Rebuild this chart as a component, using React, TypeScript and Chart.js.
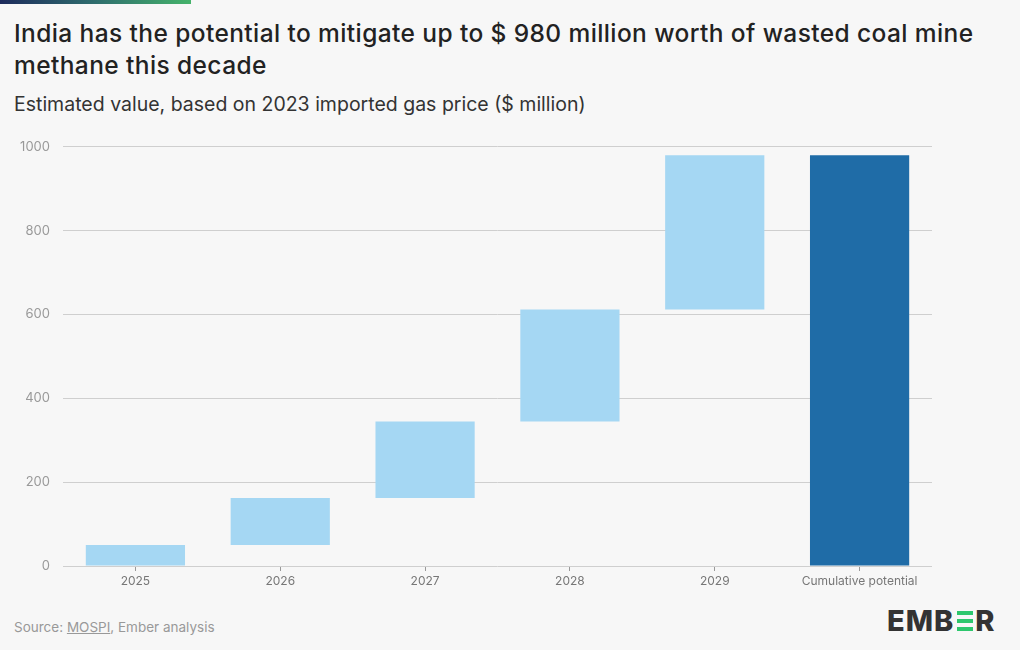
import React, { useEffect, useRef } from "react";
import { Chart, registerables } from "chart.js";

Chart.register(...registerables);

const categories = ["2025", "2026", "2027", "2028", "2029", "Cumulative potential"];
const barStarts = [0, 50, 162, 345, 612, 0];
const barEnds = [50, 162, 345, 612, 980, 980];
const yTicks = [0, 200, 400, 600, 800, 1000];
const barColors = ["#a5d7f3", "#a5d7f3", "#a5d7f3", "#a5d7f3", "#a5d7f3", "#1f6ca7"];

const FONT = "Inter, 'Noto Sans', sans-serif";

export default function App() {
  const ref = useRef<HTMLCanvasElement | null>(null);

  useEffect(() => {
    if (!ref.current) return;
    const chart = new Chart(ref.current, {
      type: "bar",
      data: {
        labels: categories,
        datasets: [
          {
            data: categories.map((_, i) => [barStarts[i], barEnds[i]]) as any,
            backgroundColor: barColors,
            borderWidth: 0,
            categoryPercentage: 1,
            barPercentage: 0.685,
          },
        ],
      },
      options: {
        animation: false,
        responsive: false,
        maintainAspectRatio: false,
        layout: { padding: { top: 8, right: 8, left: 0, bottom: 0 } },
        plugins: { legend: { display: false }, tooltip: { enabled: false } },
        scales: {
          x: {
            grid: { display: true, offset: false, drawOnChartArea: false, drawTicks: true, tickLength: 5, color: "#999" },
            border: { display: false },
            ticks: { color: "#777", font: { family: FONT, size: 12 }, padding: 3, maxRotation: 0 },
            afterFit: (s: any) => { s.height = 34; },
          },
          y: {
            min: 0,
            max: 1000,
            afterBuildTicks: (s: any) => { s.ticks = yTicks.map((v) => ({ value: v })); },
            grid: { color: "#cfcfcf", drawTicks: false },
            border: { display: false },
            ticks: { color: "#999", font: { family: FONT, size: 13 }, padding: 13, callback: (v: any) => String(v) },
            afterFit: (s: any) => { s.width = 63; },
          },
        },
      },
    });
    return () => chart.destroy();
  }, []);

  return (
    <div style={{ position: "fixed", left: 0, top: 0, width: 1020, height: 650, background: "#f7f7f7", fontFamily: FONT, overflow: "hidden" }}>
      <div style={{ position: "absolute", left: 0, top: 0, width: 191, height: 4, background: "linear-gradient(90deg, #1d2b5c 0%, #2f6e6e 50%, #45b36b 100%)" }} />
      <div style={{ position: "absolute", left: 14, top: 17, width: 990, fontSize: 24.5, fontWeight: 500, color: "#222", lineHeight: "32px", letterSpacing: 0.4 }}>
        India has the potential to mitigate up to $ 980 million worth of wasted coal mine<br />methane this decade
      </div>
      <div style={{ position: "absolute", left: 14, top: 91, fontSize: 19.5, color: "#333", lineHeight: "26px" }}>
        Estimated value, based on 2023 imported gas price ($ million)
      </div>
      <canvas ref={ref} width={940} height={474} style={{ position: "absolute", left: 0, top: 126, width: 940, height: 474 }} />
      <div style={{ position: "absolute", left: 14, top: 619, fontSize: 13.5, color: "#999", lineHeight: "16px" }}>
        Source: <span style={{ textDecoration: "underline" }}>MOSPI</span>, Ember analysis
      </div>
      <div style={{ position: "absolute", left: 887, top: 607, height: 28, display: "flex", alignItems: "center", fontSize: 29, fontWeight: 800, color: "#333", letterSpacing: 1, lineHeight: "28px" }}>
        <span>EMB</span>
        <span style={{ display: "inline-flex", flexDirection: "column", justifyContent: "space-between", height: 20, width: 16, margin: "0 2px 0 3px" }}>
          <span style={{ display: "block", height: 4, background: "#2dc76d" }} />
          <span style={{ display: "block", height: 4, background: "#2dc76d" }} />
          <span style={{ display: "block", height: 4, background: "#2dc76d" }} />
        </span>
        <span>R</span>
      </div>
    </div>
  );
}
